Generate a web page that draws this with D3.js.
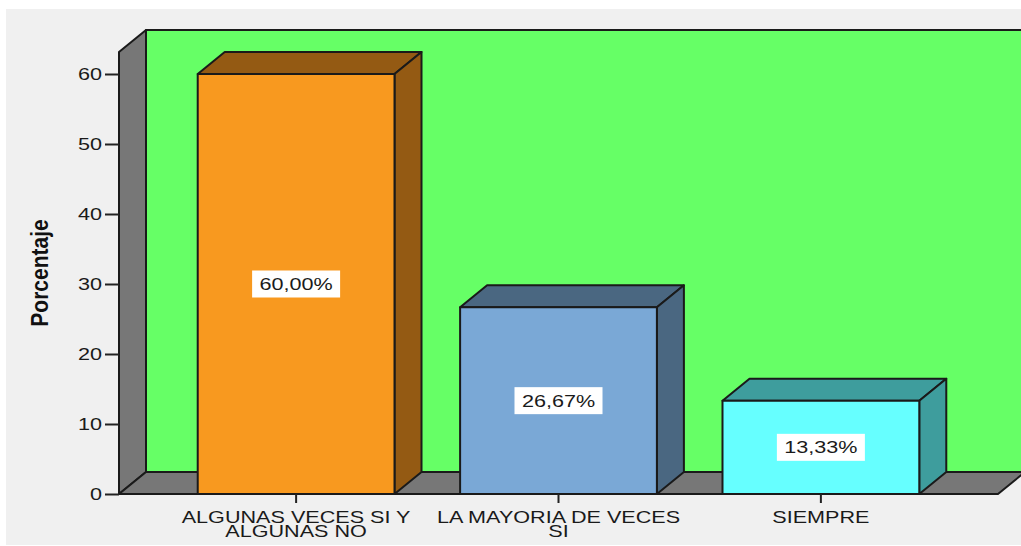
<html>

<head>
    <script src="https://d3js.org/d3.v7.min.js"></script>
</head>

<body style="margin:0;background:white">
    <svg></svg>
    <script>
        // data
        const categories = [["ALGUNAS VECES SI Y", "ALGUNAS NO"], ["LA MAYORIA DE VECES", "SI"], ["SIEMPRE"]]
        const values = [60.00, 26.67, 13.33]
        const yTickValues = [0, 10, 20, 30, 40, 50, 60]
        const yLabel = "Porcentaje"

        // bar colors: front face / top + side face
        const frontColors = ["#f8991f", "#7aa8d6", "#66ffff"]
        const shadeColors = ["#945a13", "#4a6781", "#3e9d9d"]

        const width = 1021
        const height = 546
        const dx = 27, dy = 22        // depth offset of the 3D box
        const xRange = [119, 998]
        const yRange = [494, 74]
        const textStretch = 1.35      // picture text is wide

        const xScale = d3.scaleBand().domain(d3.range(values.length)).range(xRange)
            .paddingInner(0.25).paddingOuter(0.3)
        const yScale = d3.scaleLinear([0, 60], yRange)
        const yTop = 63.15

        const svg = d3.select("svg")
            .attr("width", width)
            .attr("height", height)
            .attr("viewBox", [0, 0, width, height])
            .style("display", "block")
            .style("font-family", "'Liberation Sans', Arial, sans-serif")

        // grey panel
        svg.append("rect").attr("x", 6).attr("y", 9).attr("width", width - 6).attr("height", height - 10)
            .attr("fill", "#f0f0f0")

        const y0 = yScale(0), yT = yScale(yTop)
        const xL = xRange[0], xR = xRange[1]
        const outline = g => g.attr("stroke", "#1a1a1a").attr("stroke-width", 2).attr("stroke-linejoin", "round")

        // back wall
        svg.append("rect").attr("x", xL + dx).attr("y", yT - dy).attr("width", xR - xL + 40).attr("height", y0 - yT)
            .attr("fill", "#66ff66").call(outline)
        // side wall
        svg.append("path").attr("d", `M${xL},${yT}L${xL + dx},${yT - dy}L${xL + dx},${y0 - dy}L${xL},${y0}Z`)
            .attr("fill", "#777777").call(outline)
        // floor
        svg.append("path").attr("d", `M${xL},${y0}L${xL + dx},${y0 - dy}L${xR + dx + 20},${y0 - dy}L${xR + dx},${y0 - dy}L${xR},${y0}Z`)
            .attr("fill", "#777777").call(outline)

        // bars
        const bars = svg.append("g").selectAll("g").data(values).join("g")
        bars.each(function (v, i) {
            const g = d3.select(this)
            const x0 = xScale(i), x1 = x0 + xScale.bandwidth(), y = yScale(v)
            g.append("path").attr("d", `M${x0},${y}L${x0 + dx},${y - dy}L${x1 + dx},${y - dy}L${x1},${y}Z`)
                .attr("fill", shadeColors[i]).call(outline)
            g.append("path").attr("d", `M${x1},${y}L${x1 + dx},${y - dy}L${x1 + dx},${y0 - dy}L${x1},${y0}Z`)
                .attr("fill", shadeColors[i]).call(outline)
            g.append("rect").attr("x", x0).attr("y", y).attr("width", x1 - x0).attr("height", y0 - y)
                .attr("fill", frontColors[i]).call(outline)
            // value label
            const cx = x0 + (x1 - x0) / 2, cy = (y + y0) / 2
            g.append("rect").attr("x", cx - 44).attr("y", cy - 13.5).attr("width", 88).attr("height", 27)
                .attr("fill", "white")
            g.append("text")
                .attr("transform", `translate(${cx},${cy + 6}) scale(${textStretch},1)`)
                .attr("text-anchor", "middle").attr("font-size", 16).attr("fill", "#1a1a1a")
                .text(v.toFixed(2).replace(".", ",") + "%")
        })

        // y axis on the front left edge
        const yAxis = d3.axisLeft(yScale).tickValues(yTickValues).tickSize(14).tickPadding(3)
        svg.append("g").attr("transform", `translate(${xL},0)`).call(yAxis)
            .call(g => g.select(".domain").remove())
            .call(g => g.selectAll(".tick line").attr("stroke", "#222").attr("stroke-width", 2))
            .call(g => g.selectAll(".tick text").attr("font-size", 16).attr("fill", "#1a1a1a")
                .attr("font-family", "'Liberation Sans', Arial, sans-serif")
                .attr("transform", `scale(${textStretch},1)`)
                .attr("x", -17 / textStretch))

        // x axis ticks on the front floor edge
        const xAxis = d3.axisBottom(xScale).tickSize(9).tickFormat("")
        svg.append("g").attr("transform", `translate(0,${y0})`).call(xAxis)
            .call(g => g.select(".domain").remove())
            .call(g => g.selectAll(".tick line").attr("stroke", "#222").attr("stroke-width", 2))

        svg.append("g").selectAll("text").data(categories).join("text")
            .attr("transform", (d, i) => `translate(${xScale(i) + xScale.bandwidth() / 2},523) scale(${textStretch},1)`)
            .attr("text-anchor", "middle").attr("font-size", 16).attr("fill", "#1a1a1a")
            .selectAll("tspan").data(d => d).join("tspan")
            .attr("x", 0).attr("dy", (d, j) => j ? 14 : 0)
            .text(d => d)

        // y label
        svg.append("text")
            .attr("transform", `translate(48,273) scale(1.15,1) rotate(-90)`)
            .attr("text-anchor", "middle").attr("font-size", 21).attr("font-weight", "bold").attr("fill", "#111")
            .text(yLabel)
    </script>
</body>

</html>
